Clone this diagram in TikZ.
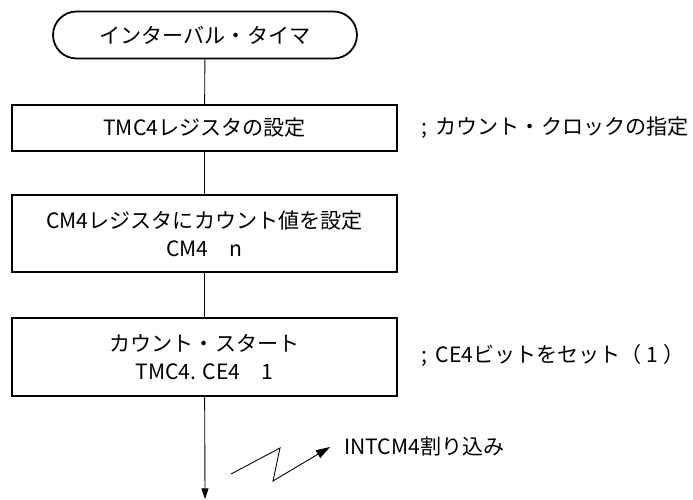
\documentclass[tikz,border=0pt]{standalone}
\usepackage{fontspec}
\setmainfont{Noto Sans CJK JP}
\usepackage{tikz}
\usetikzlibrary{arrows.meta, shapes, positioning, calc}

\begin{document}
\begin{tikzpicture}[x=0.02cm, y=-0.02cm,
  font=\fontsize{12pt}{16pt}\selectfont,
  terminal/.style={draw, line width=1pt, rounded rectangle, minimum width=6.08cm, minimum height=0.94cm, inner sep=0pt},
  procbox/.style={draw, line width=1.1pt, rectangle, minimum width=7.7cm, align=center, inner sep=0pt},
  flowline/.style={line width=0.5pt},
  note/.style={anchor=west, inner sep=0pt}]
\useasboundingbox (0,0) rectangle (693,500);
\node[terminal] (start) at (205,35) {インターバル・タイマ};
\node[procbox, minimum height=0.92cm] (settmc) at (204.5,128) {TMC4レジスタの設定};
\node[procbox, minimum height=1.54cm] (setcm) at (204.5,233.5) {CM4レジスタにカウント値を設定\\CM4　n};
\node[procbox, minimum height=1.56cm] (cntstart) at (204.5,357) {カウント・スタート\\TMC4. CE4　1};
\node[note] (clknote) at (421,128) {;\hspace{0.4em}カウント・クロックの指定};
\node[note] (cenote) at (421,355) {;\hspace{0.4em}CE4ビットをセット（ 1 ）};
\coordinate (flowend) at (205,499);
\draw[flowline] (start) -- (settmc);
\draw[flowline] (settmc) -- (setcm);
\draw[flowline] (setcm) -- (cntstart);
\draw[flowline, -{Triangle[length=6pt, width=4pt]}] (cntstart) -- (flowend);
% interrupt
\coordinate (zz1) at (231,474);
\coordinate (zz2) at (280,448);
\coordinate (zz3) at (273,481);
\coordinate (zz4) at (330,447);
\draw[flowline, -{Triangle[length=8pt, width=5pt]}] (zz1) -- (zz2) -- (zz3) -- (zz4);
\node[note] (intlabel) at (344,446) {INTCM4割り込み};
\end{tikzpicture}
\end{document}
